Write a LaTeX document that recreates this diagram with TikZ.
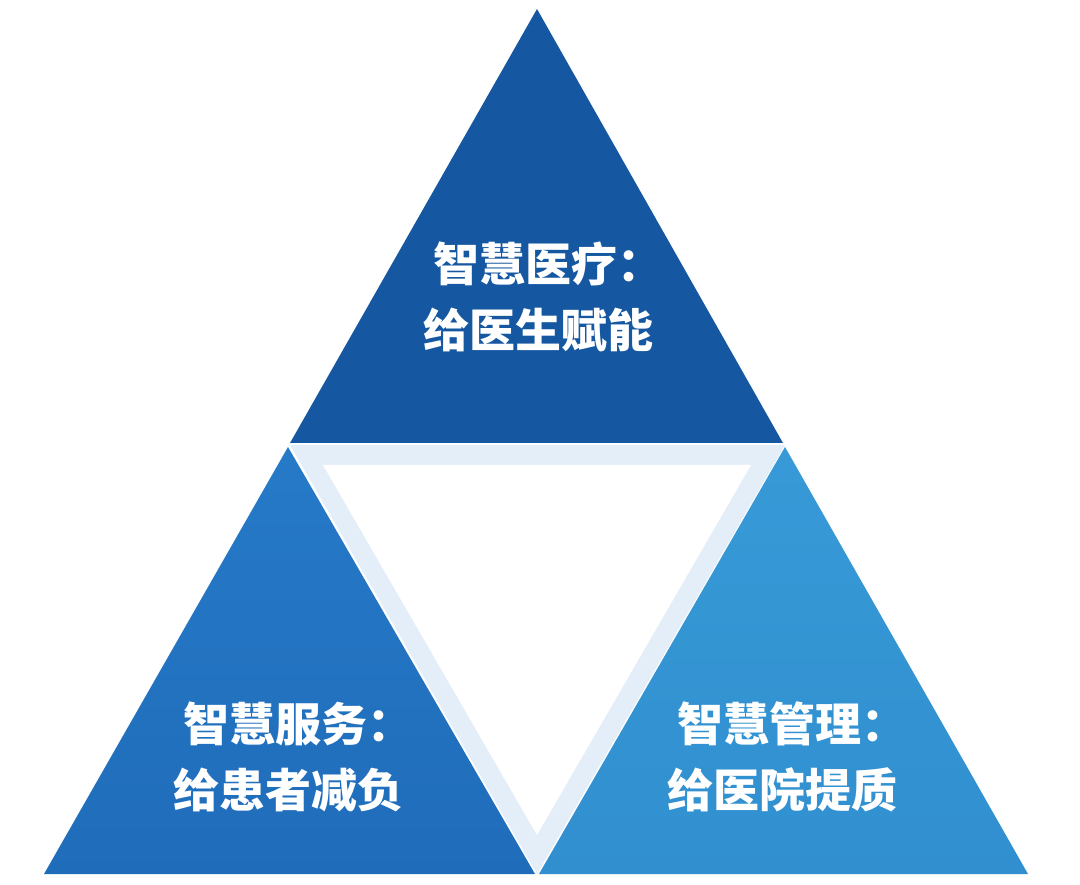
\documentclass[tikz,border=0pt]{standalone}
\usepackage{fontspec}
\newfontfamily\cjk{Noto Sans CJK SC}[BoldFont={Noto Sans CJK SC Black}]
\usepackage{tikz}
\definecolor{topblue}{RGB}{21,87,160}
\definecolor{leftblueA}{RGB}{38,122,200}
\definecolor{leftblueB}{RGB}{31,108,186}
\definecolor{rightblueA}{RGB}{55,154,215}
\definecolor{rightblueB}{RGB}{49,143,207}
\definecolor{bandblue}{RGB}{228,238,248}

\begin{document}
\begin{tikzpicture}[x=1pt, y=-1pt,
  lbl/.style={text=white, align=center, font=\cjk\bfseries\fontsize{46}{66}\selectfont}]
  \useasboundingbox (0,0) rectangle (1080,885);
  \coordinate (t) at (537,9);
  \coordinate (tl) at (290,443);
  \coordinate (tr) at (783,443);
  \coordinate (la) at (288,447);
  \coordinate (ll) at (44,874);
  \coordinate (lr) at (535,874);
  \coordinate (ra) at (785,447);
  \coordinate (rl) at (539,874);
  \coordinate (rr) at (1028,874);
  % middle band and white triangle
  \fill[bandblue] (290,445) -- (785,445) -- (537,874) -- cycle;
  \fill[white] (323,465) -- (751,465) -- (537,835) -- cycle;
  % the three triangles
  \fill[topblue] (t) -- (tr) -- (tl) -- cycle;
  \shade[top color=leftblueA, bottom color=leftblueB] (la) -- (lr) -- (ll) -- cycle;
  \shade[top color=rightblueA, bottom color=rightblueB] (ra) -- (rr) -- (rl) -- cycle;
  \node[lbl] (med) at (538,297) {智慧医疗：\kern-20pt\\给医生赋能};
  \node[lbl] (serv) at (288,757) {智慧服务：\kern-20pt\\给患者减负};
  \node[lbl] (mgmt) at (782,757) {智慧管理：\kern-20pt\\给医院提质};
\end{tikzpicture}
\end{document}
